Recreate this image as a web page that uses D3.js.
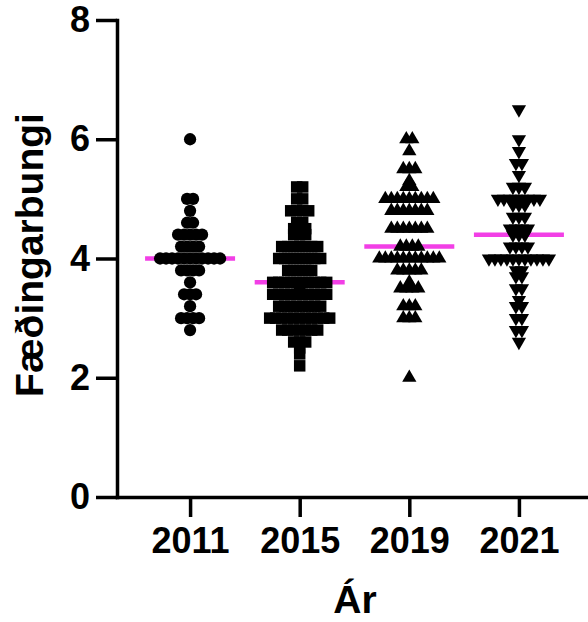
<!DOCTYPE html>
<html>
<head>
<meta charset="utf-8">
<script src="https://cdn.jsdelivr.net/npm/d3@7"></script>
<style>
  html, body { margin: 0; padding: 0; background: #fff; }
  svg { display: block; }
  text { font-family: "Liberation Sans", Arial, sans-serif; font-weight: bold; fill: #000; }
</style>
</head>
<body>
<svg id="chart" width="588" height="622"></svg>
<script>
// ---- data ----
const categories = ["2011", "2015", "2019", "2021"];
const yTicks = [0, 2, 4, 6, 8];
const medians = [4.0, 3.6, 4.2, 4.4];

// [value, count] rows for each year
const rows2011 = [[6.0,1],[5.0,2],[4.8,1],[4.6,2],[4.4,5],[4.2,4],[4.0,11],[3.8,4],[3.6,1],[3.4,3],[3.2,1],[3.0,4],[2.8,1]];
const rows2015 = [[5.2,2],[5.0,2],[4.8,4],[4.6,2],[4.5,3],[4.4,3],[4.2,7],[4.0,8],[3.8,5],[3.6,10],[3.5,1],[3.4,10],[3.2,8],[3.0,11],[2.8,7],[2.6,3],[2.5,1],[2.4,1],[2.2,1]];
const rows2019 = [[6.0,2],[5.8,1],[5.5,3],[5.3,1],[5.2,2],[5.0,9],[4.8,7],[4.5,7],[4.2,4],[4.0,11],[3.8,5],[3.6,1],[3.5,4],[3.2,3],[3.0,3],[2.0,1]];
const rows2021 = [[6.5,1],[6.0,1],[5.8,1],[5.6,2],[5.4,1],[5.2,3],[5.0,8],[4.9,3],[4.7,3],[4.5,4],[4.4,3],[4.2,4],[4.0,11],[3.8,2],[3.7,2],[3.5,2],[3.3,1],[3.2,2],[3.0,2],[2.8,2],[2.6,1]];
const groups = [rows2011, rows2015, rows2019, rows2021];

const yTitle = "Fæðingarbungi";
const xTitle = "Ár";

// ---- layout ----
const svg = d3.select("#chart");
const y = d3.scaleLinear().domain([0, 8]).range([497, 20]);
const x = d3.scalePoint().domain(categories).range([117, 592]).padding(2/3);

const AXW = 3.5;
const spread = 6; // horizontal step between points sharing a value

// median lines (drawn beneath markers)
svg.append("g").selectAll("line")
  .data(categories)
  .join("line")
  .attr("x1", (c) => x(c) - 45)
  .attr("x2", (c) => x(c) + 45)
  .attr("y1", (c, i) => y(medians[i]))
  .attr("y2", (c, i) => y(medians[i]))
  .attr("stroke", "#f23fe6")
  .attr("stroke-width", 4.5);

// markers
const shapes = [
  d3.symbol().type(d3.symbolCircle).size(118)(),
  d3.symbol().type(d3.symbolSquare).size(132)(),
  d3.symbol().type(d3.symbolTriangle).size(88)(),
  d3.symbol().type(d3.symbolTriangle).size(88)()
];
const rotations = [0, 0, 0, 180];

groups.forEach((rows, gi) => {
  const pts = [];
  rows.forEach(([v, n]) => {
    for (let k = 0; k < n; k++) {
      pts.push({ v, off: (k - (n - 1) / 2) * spread });
    }
  });
  svg.append("g").selectAll("path")
    .data(pts)
    .join("path")
    .attr("d", shapes[gi])
    .attr("transform", (d) => `translate(${x(categories[gi]) + d.off},${y(d.v)}) rotate(${rotations[gi]})`)
    .attr("fill", "#000");
});

// axes
const yAxis = svg.append("g")
  .attr("transform", "translate(117,0)")
  .call(d3.axisLeft(y).tickValues(yTicks).tickSize(21).tickSizeOuter(0).tickPadding(6).tickFormat(d3.format("d")));
const xAxis = svg.append("g")
  .attr("transform", "translate(0,497)")
  .call(d3.axisBottom(x).tickSize(20).tickSizeOuter(0).tickPadding(10));

[yAxis, xAxis].forEach((g) => {
  g.selectAll("path.domain").attr("stroke", "#000").attr("stroke-width", AXW).attr("stroke-linecap", "square");
  g.selectAll(".tick line").attr("stroke", "#000").attr("stroke-width", AXW);
  g.selectAll(".tick text").style("font-size", "36px").style("font-family", "'Liberation Sans', Arial, sans-serif").style("font-weight", "bold").attr("fill", "#000");
});

// titles
svg.append("text")
  .attr("transform", "translate(43,255) rotate(-90)")
  .attr("text-anchor", "middle")
  .style("font-size", "39px")
  .text(yTitle);

svg.append("text")
  .attr("x", 355)
  .attr("y", 613)
  .attr("text-anchor", "middle")
  .style("font-size", "39px")
  .text(xTitle);
</script>
</body>
</html>
